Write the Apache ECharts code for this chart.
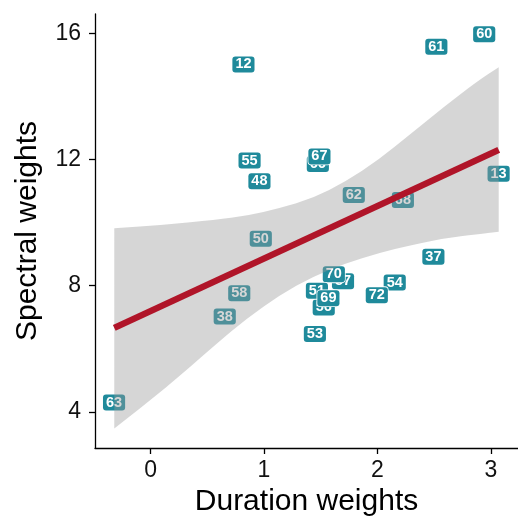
<!DOCTYPE html>
<html>
<head>
<meta charset="utf-8">
<script src="https://cdn.jsdelivr.net/npm/echarts@6/dist/echarts.min.js"></script>
<style>html,body{margin:0;padding:0;background:#fff}#c{width:518px;height:531px}</style>
</head>
<body>
<div id="c"></div>
<script>
// ---- data ----
const xTicks = [0, 1, 2, 3];
const yTicks = [4, 8, 12, 16];
const pointIds = ['60','61','12','55','66','67','48','13','62','68','50','37','57','70','54','72','56','51','69','58','38','53','63'];
const xVals = [2.942, 2.520, 0.819, 0.873, 1.475, 1.489, 0.960, 3.069, 1.792, 2.225, 0.972, 2.494, 1.697, 1.616, 2.153, 1.995, 1.527, 1.467, 1.568, 0.782, 0.654, 1.449, -0.322];
const yVals = [15.98, 15.58, 15.02, 11.97, 11.86, 12.10, 11.31, 11.55, 10.88, 10.72, 9.49, 8.92, 8.14, 8.36, 8.10, 7.70, 7.31, 7.84, 7.60, 7.76, 7.02, 6.47, 4.29];
const fitX = [-0.32, 3.07];
const fitY = [6.66, 12.31];
const bandX = [-0.32, 0.13, 0.57, 0.85, 1.14, 1.43, 1.72, 2.01, 2.30, 2.59, 2.88, 3.07];
const bandUpper = [9.82, 9.93, 10.09, 10.22, 10.46, 10.77, 11.30, 11.99, 12.84, 13.68, 14.48, 14.93];
const bandLower = [3.47, 4.74, 6.12, 6.97, 7.70, 8.29, 8.71, 9.03, 9.29, 9.50, 9.63, 9.71];

const FONT = '"Liberation Sans", Arial, Helvetica, sans-serif';
const chart = echarts.init(document.getElementById('c'), null, {renderer: 'canvas'});

const pts = xVals.map((x, i) => [x, yVals[i]]);

// smooth path through a list of pixel points (quadratic via midpoints), continuing an existing path
function smoothSeg(p, first) {
  const f = (v) => v.toFixed(2);
  let d = (first ? 'M' : 'L') + f(p[0][0]) + ' ' + f(p[0][1]);
  const mid = (a, b) => [(a[0] + b[0]) / 2, (a[1] + b[1]) / 2];
  let m = mid(p[0], p[1]);
  d += ' L' + f(m[0]) + ' ' + f(m[1]);
  for (let i = 1; i < p.length - 1; i++) {
    m = mid(p[i], p[i + 1]);
    d += ' Q' + f(p[i][0]) + ' ' + f(p[i][1]) + ' ' + f(m[0]) + ' ' + f(m[1]);
  }
  const l = p[p.length - 1];
  d += ' L' + f(l[0]) + ' ' + f(l[1]);
  return d;
}

chart.setOption({
  animation: false,
  backgroundColor: '#fff',
  grid: {left: 95, top: 14, width: 430, height: 434, containLabel: false},
  xAxis: {
    type: 'value', min: -0.49, max: 3.24,
    name: 'Duration weights', nameLocation: 'middle', nameGap: 39,
    nameTextStyle: {fontSize: 30, color: '#000', fontFamily: FONT},
    axisLine: {onZero: false, lineStyle: {color: '#000', width: 1.3}},
    axisTick: {show: true, customValues: xTicks, length: 6, lineStyle: {color: '#000', width: 1.3}},
    axisLabel: {customValues: xTicks, fontSize: 23, color: '#111', margin: 11, fontFamily: FONT},
    splitLine: {show: false}
  },
  yAxis: {
    type: 'value', min: 2.85, max: 16.62,
    name: 'Spectral weights', nameLocation: 'middle', nameGap: 52, nameRotate: 90,
    nameTextStyle: {fontSize: 30, color: '#000', fontFamily: FONT},
    axisLine: {onZero: false, lineStyle: {color: '#000', width: 1.3}},
    axisTick: {show: true, customValues: yTicks, length: 6, lineStyle: {color: '#000', width: 1.3}},
    axisLabel: {customValues: yTicks, fontSize: 23, color: '#111', margin: 14, fontFamily: FONT},
    splitLine: {show: false}
  },
  series: [
    {
      type: 'custom', z: 2, data: pts,
      encode: {x: 0, y: 1},
      renderItem: function (params, api) {
        const p = api.coord([api.value(0), api.value(1)]);
        return {
          type: 'text', x: p[0], y: p[1],
          style: {
            text: pointIds[params.dataIndex],
            fill: '#fff',
            font: 'bold 14.5px ' + FONT,
            align: 'center', verticalAlign: 'middle',
            backgroundColor: '#1f8a9b',
            padding: [1, 3, 1, 3],
            borderRadius: 3,
            borderColor: '#fff', borderWidth: 0.8,
            lineHeight: 14
          }
        };
      }
    },
    {
      type: 'custom', z: 3, silent: true,
      data: [[bandX[0], bandLower[0]]],
      encode: {x: 0, y: 1},
      renderItem: function (params, api) {
        const up = bandX.map((x, i) => api.coord([x, bandUpper[i]]));
        const lo = bandX.map((x, i) => api.coord([x, bandLower[i]])).reverse();
        const d = smoothSeg(up, true) + ' ' + smoothSeg(lo, false) + ' Z';
        return {
          type: 'path',
          shape: {pathData: d},
          style: {fill: 'rgba(153,153,153,0.4)', stroke: null}
        };
      }
    },
    {
      type: 'line', z: 4, data: fitX.map((x, i) => [x, fitY[i]]),
      symbol: 'none', lineStyle: {color: '#b01529', width: 6.5}, silent: true
    }
  ]
});
</script>
</body>
</html>
